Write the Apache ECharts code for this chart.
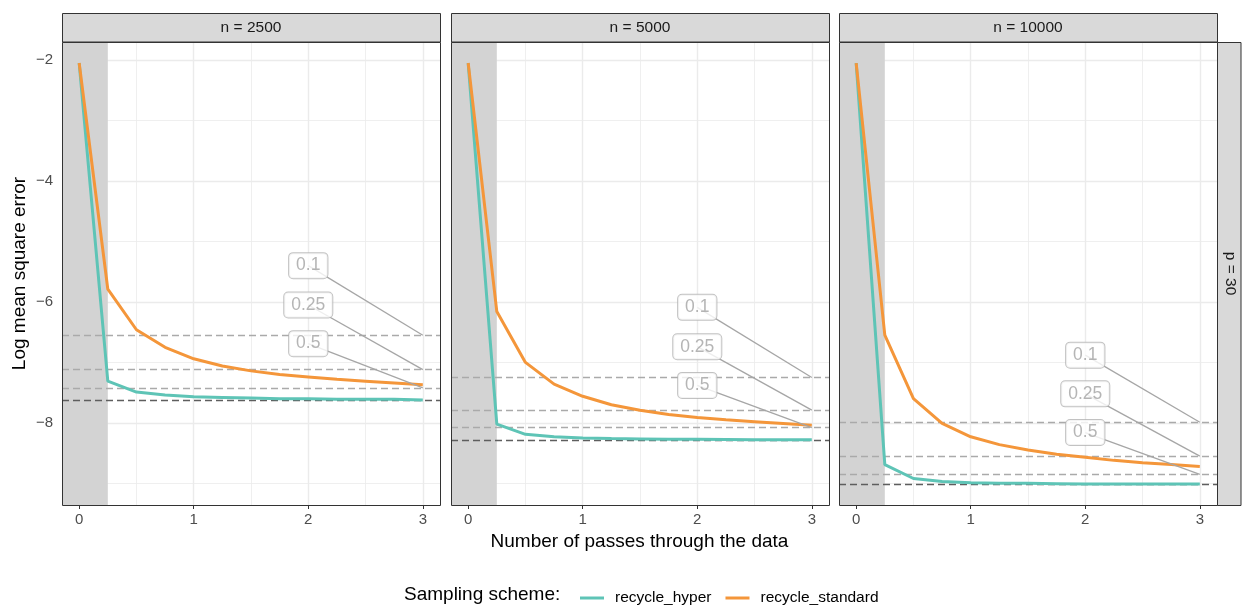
<!DOCTYPE html>
<html><head><meta charset="utf-8">
<script src="https://cdn.jsdelivr.net/npm/echarts@6/dist/echarts.min.js"></script>
<style>html,body{margin:0;padding:0;background:#fff}#c{width:1243px;height:607px}</style>
</head><body><div id="c"></div>
<script>
// ---- data ----
const passes = [0, 0.25, 0.5, 0.75, 1, 1.25, 1.5, 1.75, 2, 2.25, 2.5, 2.75, 3];
const panelNames = ['n = 2500', 'n = 5000', 'n = 10000'];
const rowName = 'p = 30';
const hyper2500 = [-2.05, -7.31, -7.49, -7.54, -7.57, -7.58, -7.59, -7.60, -7.60, -7.61, -7.61, -7.61, -7.62];
const standard2500 = [-2.05, -5.79, -6.46, -6.75, -6.94, -7.06, -7.14, -7.20, -7.24, -7.28, -7.31, -7.34, -7.37];
const hyper5000 = [-2.05, -8.02, -8.19, -8.23, -8.25, -8.26, -8.265, -8.27, -8.27, -8.275, -8.28, -8.28, -8.28];
const standard5000 = [-2.05, -6.16, -7.00, -7.36, -7.56, -7.70, -7.79, -7.86, -7.91, -7.95, -7.98, -8.01, -8.04];
const hyper10000 = [-2.05, -8.69, -8.92, -8.97, -8.99, -9.00, -9.00, -9.005, -9.01, -9.01, -9.01, -9.01, -9.01];
const standard10000 = [-2.05, -6.55, -7.60, -8.01, -8.23, -8.36, -8.45, -8.52, -8.57, -8.62, -8.66, -8.69, -8.72];
const optimal = [-7.62, -8.28, -9.01];
const thresholdNames = ['0.1', '0.25', '0.5'];
const thresholdLevels = [[-6.55, -7.12, -7.42], [-7.25, -7.79, -8.08], [-7.99, -8.55, -8.85]];
const labelX = 2;
const labelY = [[-5.40, -6.05, -6.69], [-6.09, -6.74, -7.38], [-6.88, -7.52, -8.16]];
const burnInEnd = 0.25;
const xTicks = [0, 1, 2, 3];
const xMinor = [0.5, 1.5, 2.5];
const yTicks = [-8, -6, -4, -2];
const yMinor = [-9, -7, -5, -3];
const xRange = [-0.15, 3.15];
const yRange = [-9.358, -1.702];

const hyperSeries = [hyper2500, hyper5000, hyper10000];
const standardSeries = [standard2500, standard5000, standard10000];

// ---- layout ----
const FONT = 'Liberation Sans, Arial, sans-serif';
const lefts = [62, 451, 839];
const PW = 378, PT = 42, PH = 463;
const TEAL = '#5EC4B6', ORANGE = '#F4963A';

const grids = [], xAxes = [], yAxes = [], series = [], graphics = [];
for (let i = 0; i < 3; i++) {
  grids.push({left: lefts[i], top: PT, width: PW, height: PH, show: false});
  xAxes.push({
    type: 'value', gridIndex: i, min: xRange[0], max: xRange[1],
    axisLine: {show: false}, splitLine: {show: false},
    axisTick: {show: true, length: 4, lineStyle: {color: '#333', width: 1}, customValues: xTicks},
    axisLabel: {show: true, color: '#4D4D4D', fontSize: 15, fontFamily: FONT, margin: 7, customValues: xTicks}
  });
  yAxes.push({
    type: 'value', gridIndex: i, min: yRange[0], max: yRange[1],
    axisLine: {show: false}, splitLine: {show: false},
    axisTick: {show: i === 0, length: 4, lineStyle: {color: '#333', width: 1}, customValues: yTicks},
    axisLabel: {show: i === 0, color: '#4D4D4D', fontSize: 15, fontFamily: FONT, margin: 9,
      customValues: yTicks, formatter: v => (v < 0 ? '\u2212' + Math.abs(v) : String(v))}
  });
  const gl = [];
  yTicks.forEach(v => gl.push({yAxis: v, lineStyle: {color: '#EBEBEB', width: 1.4, type: 'solid'}}));
  yMinor.forEach(v => gl.push({yAxis: v, lineStyle: {color: '#EBEBEB', width: 0.8, type: 'solid'}}));
  xTicks.forEach(v => gl.push({xAxis: v, lineStyle: {color: '#EBEBEB', width: 1.4, type: 'solid'}}));
  xMinor.forEach(v => gl.push({xAxis: v, lineStyle: {color: '#EBEBEB', width: 0.8, type: 'solid'}}));
  series.push({
    type: 'line', xAxisIndex: i, yAxisIndex: i, data: [], silent: true, z: 0,
    markLine: {silent: true, z: 0.5, symbol: 'none', animation: false, label: {show: false}, emphasis: {disabled: true}, data: gl},
    markArea: {silent: true, z: 1, animation: false, itemStyle: {color: '#D3D3D3'}, label: {show: false},
      data: [[{xAxis: xRange[0]}, {xAxis: burnInEnd}]]}
  });
  const dl = thresholdLevels[i].map(v => ({yAxis: v, lineStyle: {color: '#AAAAAA', width: 1.4, type: [7, 4]}}));
  dl.push({yAxis: optimal[i], lineStyle: {color: '#5E5E5E', width: 1.4, type: [7, 4]}});
  series.push({
    type: 'line', xAxisIndex: i, yAxisIndex: i, data: [], silent: true, z: 1.5,
    markLine: {silent: true, z: 1.5, symbol: 'none', animation: false, label: {show: false}, emphasis: {disabled: true}, data: dl}
  });
  series.push({
    name: 'recycle_hyper', type: 'line', xAxisIndex: i, yAxisIndex: i, z: 2,
    data: passes.map((x, k) => [x, hyperSeries[i][k]]), showSymbol: false, symbol: 'none',
    color: TEAL, lineStyle: {color: TEAL, width: 3}, animation: false
  });
  series.push({
    name: 'recycle_standard', type: 'line', xAxisIndex: i, yAxisIndex: i, z: 2.1,
    data: passes.map((x, k) => [x, standardSeries[i][k]]), showSymbol: false, symbol: 'none',
    color: ORANGE, lineStyle: {color: ORANGE, width: 3}, animation: false
  });
  series.push({
    type: 'scatter', xAxisIndex: i, yAxisIndex: i, z: 4, silent: true, animation: false,
    symbolSize: 0,
    data: thresholdNames.map((nm, k) => [labelX, labelY[i][k], nm]),
    label: {show: true, position: 'inside', formatter: p => p.value[2], color: '#A3A3A3', fontSize: 17.5,
      fontFamily: FONT, backgroundColor: '#FFFFFF', borderColor: '#B3B3B3', borderWidth: 1, borderRadius: 4,
      padding: [4, 7, 3, 7]},
    markLine: {silent: true, z: 3, symbol: 'none', animation: false, label: {show: false}, emphasis: {disabled: true},
      lineStyle: {color: '#A6A6A6', width: 1.3, type: 'solid'},
      data: thresholdNames.map((nm, k) => [{coord: [labelX, labelY[i][k]]}, {coord: [3, thresholdLevels[i][k]]}])}
  });
  // strip + border
  graphics.push({type: 'rect', z: 100, shape: {x: lefts[i] + 0.5, y: 13.5, width: PW, height: 28.5},
    style: {fill: '#D9D9D9', stroke: '#333333', lineWidth: 1}});
  graphics.push({type: 'text', z: 101, x: lefts[i] + PW / 2, y: 28,
    style: {text: panelNames[i], fill: '#1A1A1A', font: '15.5px ' + FONT, textAlign: 'center', textVerticalAlign: 'middle'}});
  graphics.push({type: 'rect', z: 100, shape: {x: lefts[i] + 0.5, y: PT + 0.5, width: PW, height: PH},
    style: {fill: 'none', stroke: '#333333', lineWidth: 1}});
}
// right strip
graphics.push({type: 'rect', z: 100, shape: {x: 1217.5, y: PT + 0.5, width: 23.5, height: PH},
  style: {fill: '#D9D9D9', stroke: '#333333', lineWidth: 1}});
graphics.push({type: 'text', z: 101, x: 1230, y: PT + PH / 2, rotation: -Math.PI / 2,
  style: {text: rowName, fill: '#1A1A1A', font: '15.5px ' + FONT, textAlign: 'center', textVerticalAlign: 'middle'}});
// axis titles
graphics.push({type: 'text', z: 101, x: 639.5, y: 542,
  style: {text: 'Number of passes through the data', fill: '#000', font: '19px ' + FONT, textAlign: 'center', textVerticalAlign: 'middle'}});
graphics.push({type: 'text', z: 101, x: 20, y: PT + PH / 2, rotation: Math.PI / 2,
  style: {text: 'Log mean square error', fill: '#000', font: '19px ' + FONT, textAlign: 'center', textVerticalAlign: 'middle'}});
graphics.push({type: 'text', z: 101, x: 404, y: 595,
  style: {text: 'Sampling scheme:', fill: '#000', font: '19px ' + FONT, textAlign: 'left', textVerticalAlign: 'middle'}});

const chart = echarts.init(document.getElementById('c'), null, {renderer: 'canvas'});
chart.setOption({
  animation: false,
  backgroundColor: '#FFFFFF',
  grid: grids, xAxis: xAxes, yAxis: yAxes, series: series, graphic: graphics,
  legend: {
    data: ['recycle_hyper', 'recycle_standard'], left: 575, top: 585, icon: 'rect',
    itemWidth: 24, itemHeight: 3, itemGap: 14, selectedMode: false,
    textStyle: {color: '#000', fontSize: 15.5, fontFamily: FONT, padding: [0, 0, 0, 6]}
  }
});
</script></body></html>
